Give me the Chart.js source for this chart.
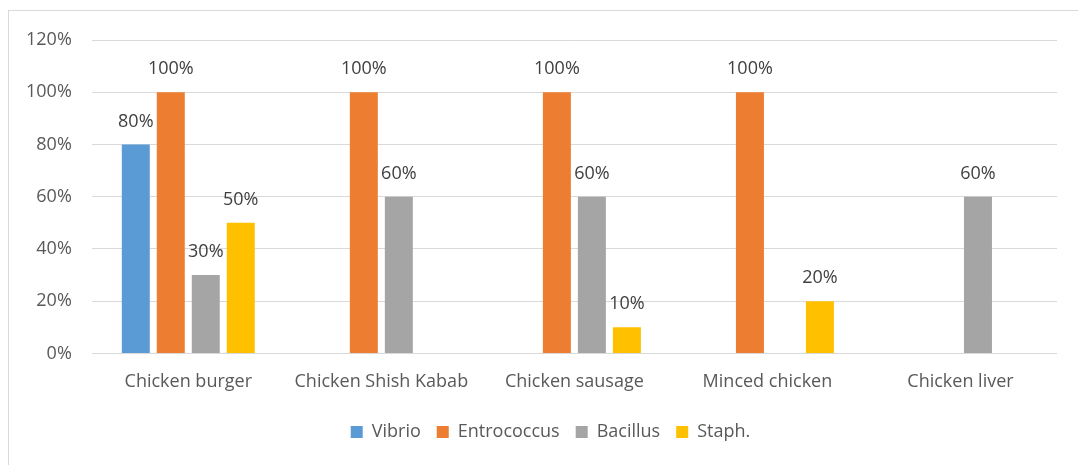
<!DOCTYPE html>
<html>
<head>
<meta charset="utf-8">
<script src="https://cdn.jsdelivr.net/npm/chart.js@4/dist/chart.umd.min.js"></script>
<style>
html,body{margin:0;padding:0;background:#fff;}
#wrap{position:absolute;left:0;top:0;width:1078px;height:465px;}
</style>
</head>
<body>
<div id="wrap"><canvas id="c" width="1078" height="465"></canvas></div>
<script>
const categories = ["Chicken burger", "Chicken Shish Kabab", "Chicken sausage", "Minced chicken", "Chicken liver"];
const vibrio = [80, 0, 0, 0, 0];
const entrococcus = [100, 100, 100, 100, 0];
const bacillus = [30, 60, 60, 0, 60];
const staph = [50, 0, 10, 20, 0];
const seriesNames = ["Vibrio", "Entrococcus", "Bacillus", "Staph."];
const yTicks = [0, 20, 40, 60, 80, 100, 120];

const FONT = "'Open Sans', sans-serif";
const colors = ["#5B9BD5", "#ED7D31", "#A5A5A5", "#FFC000"];

const frame = {
  id: 'frame',
  beforeDraw(chart) {
    const ctx = chart.ctx;
    ctx.save();
    ctx.strokeStyle = '#d9d9d9';
    ctx.lineWidth = 1;
    ctx.strokeRect(8.5, 10.5, 1100, 500);
    ctx.restore();
  }
};

const legendShift = {
  id: 'legendShift',
  afterLayout(chart) {
    if (chart.legend) { chart.legend.left += 19; chart.legend.right += 19; }
  }
};

const labelsPlugin = {
  id: 'vlabels',
  afterDatasetsDraw(chart) {
    const ctx = chart.ctx;
    ctx.save();
    ctx.font = "18px " + FONT;
    ctx.fillStyle = '#404040';
    ctx.textAlign = 'center';
    ctx.textBaseline = 'middle';
    chart.data.datasets.forEach((ds, i) => {
      const meta = chart.getDatasetMeta(i);
      meta.data.forEach((bar, j) => {
        const v = ds.data[j];
        if (!v) return;
        ctx.fillText(v + '%', bar.x, bar.y - 23);
      });
    });
    ctx.restore();
  }
};

new Chart(document.getElementById('c'), {
  type: 'bar',
  data: {
    labels: categories,
    datasets: [vibrio, entrococcus, bacillus, staph].map((d, i) => ({
      label: seriesNames[i],
      data: d,
      backgroundColor: colors[i],
      borderWidth: 0,
      barPercentage: 0.8,
      categoryPercentage: 0.725
    }))
  },
  options: {
    responsive: false,
    animation: false,
    devicePixelRatio: 1,
    layout: { padding: { left: 6, right: 21, top: 40, bottom: 14 } },
    plugins: {
      legend: {
        position: 'bottom',
        labels: {
          boxWidth: 12, boxHeight: 12, padding: 16,
          color: '#595959',
          font: { size: 18, family: FONT }
        }
      },
      tooltip: { enabled: false }
    },
    scales: {
      x: {
        grid: { display: false, drawTicks: false },
        border: { display: false },
        afterFit(axis) { axis.height -= 4; },
        ticks: { color: '#595959', font: { size: 18, family: FONT }, padding: 18, maxRotation: 0 }
      },
      y: {
        min: 0, max: 120,
        afterBuildTicks(axis) { axis.ticks = yTicks.map(v => ({ value: v })); },
        grid: { color: '#d9d9d9', lineWidth: 1, drawTicks: false },
        border: { display: false },
        ticks: { color: '#595959', font: { size: 18, family: FONT }, padding: 20, callback: v => v + '%' }
      }
    }
  },
  plugins: [frame, legendShift, labelsPlugin]
});
</script>
</body>
</html>
